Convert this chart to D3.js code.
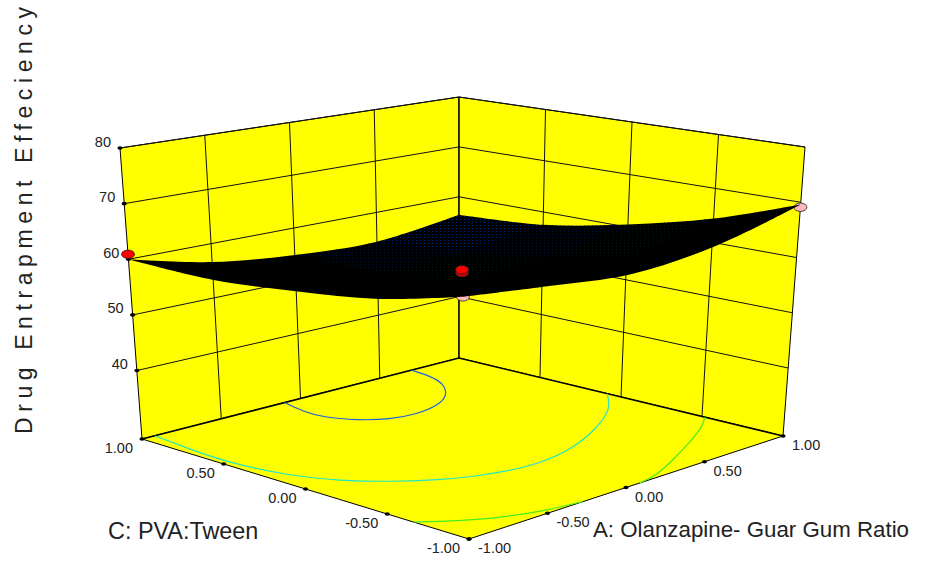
<!DOCTYPE html>
<html><head><meta charset="utf-8">
<script src="https://cdn.jsdelivr.net/npm/d3@7"></script>
<style>html,body{margin:0;padding:0;background:#fff}svg{display:block}text{font-family:"Liberation Sans",Arial,sans-serif;fill:#222}</style>
</head><body><svg id="c" width="932" height="561"></svg>
<script>
const zTicks=[40,50,60,70,80];
const zFloor=27.7, zTop=80;
const aTicks=[-1,-0.5,0,0.5,1];
const cTicks=[1,0.5,0,-0.5,-1];
const tickFmt=v=>d3.format(".2f")(v).replace("\u2212","-");
const aGrid=[-1,-0.5,0,0.5,1];
const cGrid=[-1,-0.5,0,0.5,1];
// surface height: row per C value, column per A value
const zRow0=[67.4,65.8,64.4,65.7,69.6];
const zRow1=[63.75,60.7,59.8,61.0,64.4];
const zRow2=[61.6,58.1,56.95,57.7,60.5];
const zRow3=[60.05,56.8,55.3,55.65,57.5];
const zRow4=[60.0,56.6,54.9,54.3,56.4];
const zRows=[zRow0,zRow1,zRow2,zRow3,zRow4];
// contours on the floor: [A, C]
const contourBlue=[[-0.10,1],[-0.146,0.842],[-0.146,0.718],[-0.074,0.582],[0.042,0.49],[0.188,0.466],[0.358,0.50],[0.508,0.59],[0.636,0.74],[0.684,0.868],[0.70,1]];
const contourCyan=[[-0.92,1],[-0.95,0.75],[-0.97,0.5],[-0.91,0.18],[-0.80,-0.018],[-0.652,-0.182],[-0.476,-0.316],[-0.338,-0.388],[-0.182,-0.442],[0.008,-0.464],[0.266,-0.416],[0.564,-0.274],[0.788,-0.128],[0.89,-0.034],[1,0.084]];
const contourGreenA=[[-1,-0.66],[-0.913,-0.74],[-0.794,-0.828],[-0.658,-0.90],[-0.506,-0.96],[-0.274,-1]];
const contourGreenB=[[0.09,-1],[0.22,-0.976],[0.43,-0.874],[0.678,-0.738],[0.866,-0.628],[1,-0.518]];
// design points [A, C, response]
const pointsBehind=[[-1,-1,67.4,"#ffb9b9"],[1,-1,69.1,"#ffb9b9"]];
const pointsFront=[[0,0,58.4,"#d40000"],[0,0,58.95,"#ff0000"],[-1,1,60.9,"#ff0000"]];

const cornerF=[469,539],cornerR=[783,436],cornerL=[142,439],cornerB=[459,358];
const topF=[461,220],topR=[805,147],topL=[120,148],topB=[459,97];
const u=d3.scaleLinear([-1,1],[0,1]), v=d3.scaleLinear([-1,1],[0,1]), w=d3.scaleLinear([zFloor,zTop],[0,1]);
const bil=(f,r,l,b,s,t)=>[0,1].map(i=>f[i]*(1-s)*(1-t)+r[i]*s*(1-t)+l[i]*(1-s)*t+b[i]*s*t);
function P(a,c,z){
  const s=u(a),t=v(c),k=w(z);
  const g=bil(cornerF,cornerR,cornerL,cornerB,s,t),h=bil(topF,topR,topL,topB,s,t);
  return [g[0]+(h[0]-g[0])*k,g[1]+(h[1]-g[1])*k];
}
const svg=d3.select("#c");
const defs=svg.append("defs");
const line=d3.line();
const smooth=d3.line().curve(d3.curveCatmullRom.alpha(0.5));
const basis=d3.line().curve(d3.curveBasis);
const Y="#ffff00";
// walls and floor
const poly=(pts,fill)=>svg.append("path").attr("d",line(pts)+"Z").attr("fill",fill).attr("stroke","#000").attr("stroke-width",1);
poly([P(-1,1,zTop),P(1,1,zTop),P(1,1,zFloor),P(-1,1,zFloor)],Y);
poly([P(1,1,zTop),P(1,-1,zTop),P(1,-1,zFloor),P(1,1,zFloor)],Y);
// wall grid
const grid=svg.append("g").attr("fill","none").attr("stroke","#111").attr("stroke-width",1);
zTicks.forEach(z=>{
  grid.append("path").attr("d",line([P(-1,1,z),P(1,1,z),P(1,-1,z)]));
});
[-0.5,0,0.5].forEach(t=>{
  grid.append("path").attr("d",line([P(t,1,zFloor),P(t,1,zTop)]));
  grid.append("path").attr("d",line([P(1,t,zFloor),P(1,t,zTop)]));
});
svg.append("path").attr("d",line([P(-1,1,zFloor),P(-1,-1,zFloor),P(1,-1,zFloor),P(1,1,zFloor)])+"Z").attr("fill",Y).attr("stroke","none");
svg.append("path").attr("d",line([P(-1,1,zFloor),P(-1,-1,zFloor),P(1,-1,zFloor)])).attr("fill","none").attr("stroke","#000").attr("stroke-width",1);
svg.append("path").attr("d",line([P(-1,1,zFloor),P(1,1,zFloor),P(1,-1,zFloor)])).attr("fill","none").attr("stroke","#000").attr("stroke-width",1.6);
svg.append("path").attr("d",line([P(1,1,zFloor),P(1,1,zTop)])).attr("stroke","#000");
// contours
[[contourBlue,"#1f5fe0"],[contourCyan,"#1fe6c8"],[contourGreenA,"#44ee22"],[contourGreenB,"#44ee22"]].forEach(([d,col])=>{
  svg.append("path").attr("d",basis(d.map(p=>P(p[0],p[1],zFloor)))).attr("fill","none").attr("stroke",col).attr("stroke-width",1.2);
});
// ticks
const dot=(p)=>svg.append("ellipse").attr("cx",p[0]).attr("cy",p[1]).attr("rx",2.6).attr("ry",1.8).attr("fill","#000");
const lab=(p,t,dx,dy,anchor)=>svg.append("text").attr("x",p[0]+dx).attr("y",p[1]+dy).attr("text-anchor",anchor).attr("font-size",14.5).text(t);
zTicks.forEach(z=>{const p=P(-1,1,z);dot(p);lab(p,z,-9,-1.5,"end");});
cTicks.forEach(c=>{const p=P(-1,c,zFloor);dot(p);lab(p,tickFmt(c),-9,14,"end");});
aTicks.forEach(a=>{const p=P(a,-1,zFloor);dot(p);lab(p,tickFmt(a),9,14,"start");});
// design points behind surface
const disc=(d)=>{const p=P(d[0],d[1],d[2]);svg.append("ellipse").attr("cx",p[0]).attr("cy",p[1]).attr("rx",6.5).attr("ry",4.2).attr("fill",d[3]).attr("stroke","#222").attr("stroke-width",0.8);};
pointsBehind.forEach(disc);
// surface
const S=(i,j)=>P(aGrid[j],cGrid[i],zRows[i][j]);
const n=aGrid.length;
const cLeft=cGrid.map((_,i)=>S(i,0)).reverse();
const front=aGrid.map((_,j)=>S(0,j));
const right=cGrid.map((_,i)=>S(i,n-1));
const back=aGrid.map((_,j)=>S(n-1,j)).reverse();
const outlineD=[front,right,back,cLeft].map(e=>smooth(e)).map((d,i)=>i==0?d:d.replace(/^M[^CLQ]*/,"")).join("")+"Z";
svg.append("path").attr("d",outlineD).attr("fill","#000");
defs.append("clipPath").attr("id","surfClip").append("path").attr("d",outlineD);
const dotColour=d3.scaleLinear([0.5,1,1.5],["#001414","#001238","#002a78"]);
const cells=svg.append("g").attr("clip-path","url(#surfClip)");
for(let i=1;i<n-1;i++)for(let j=2;j<n-1;j++){
  const key=(aGrid[j]+aGrid[j+1]+cGrid[i]+cGrid[i+1])/2;
  if(key<0.5) continue;
  const id="mesh"+i+"_"+j;
  const pat=defs.append("pattern").attr("id",id).attr("patternUnits","userSpaceOnUse").attr("width",4).attr("height",3);
  pat.append("rect").attr("width",1).attr("height",1).attr("fill",dotColour(key));
  cells.append("path").attr("d",line([S(i,j),S(i,j+1),S(i+1,j+1),S(i+1,j)])+"Z").attr("fill",`url(#${id})`);
}
pointsFront.forEach(disc);
// axis titles
svg.append("text").attr("x",108).attr("y",539).attr("font-size",23.4).text("C: PVA:Tween");
svg.append("text").attr("x",593).attr("y",537).attr("font-size",22.3).text("A: Olanzapine- Guar Gum Ratio");
svg.append("text").attr("transform","translate(32,434) rotate(-90)").attr("font-size",23).attr("textLength",427).attr("lengthAdjust","spacing").text("Drug Entrapment Effeciency");
</script></body></html>
